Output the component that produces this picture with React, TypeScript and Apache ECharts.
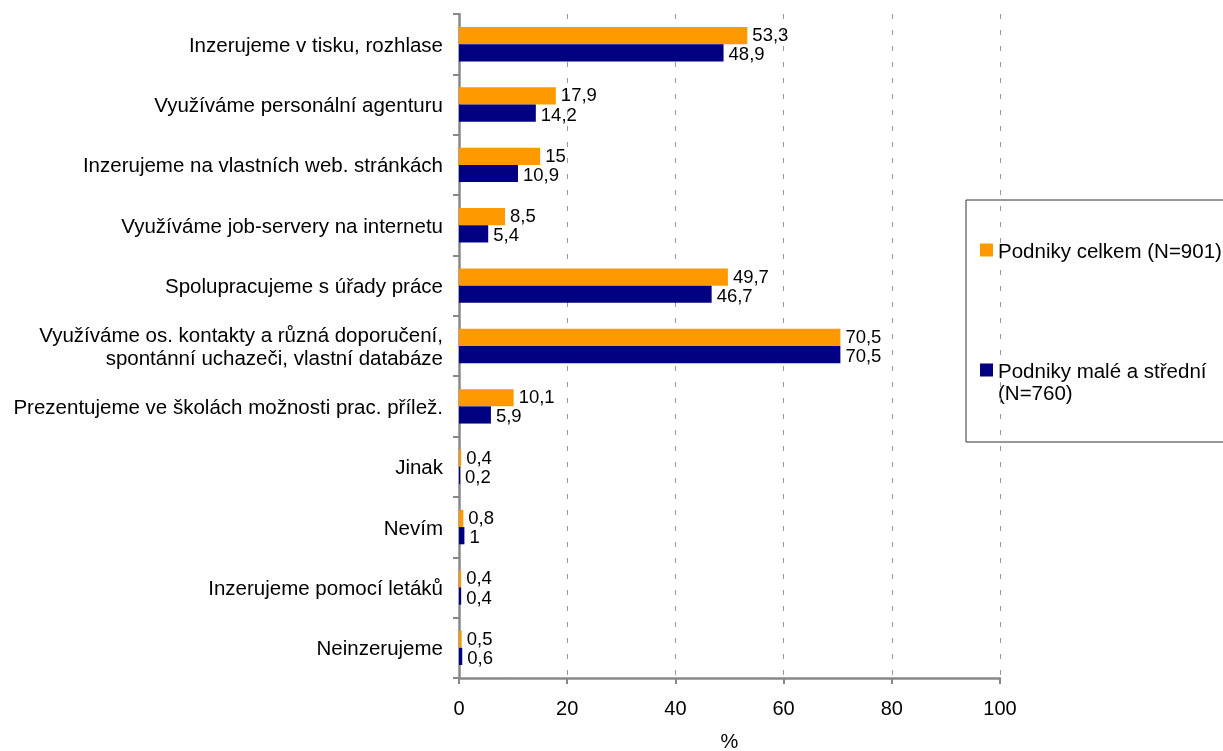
import React, { useEffect, useRef } from "react";
import * as echarts from "echarts";

const categories = [
  "Inzerujeme v tisku, rozhlase",
  "Využíváme personální agenturu",
  "Inzerujeme na vlastních web. stránkách",
  "Využíváme job-servery na internetu",
  "Spolupracujeme s úřady práce",
  "Využíváme os. kontakty a různá doporučení,\nspontánní uchazeči, vlastní databáze",
  "Prezentujeme ve školách možnosti prac. přílež.",
  "Jinak",
  "Nevím",
  "Inzerujeme pomocí letáků",
  "Neinzerujeme",
];
const seriesNames = ["Podniky celkem (N=901)", "Podniky malé a střední (N=760)"];
const celkem = [53.3, 17.9, 15, 8.5, 49.7, 70.5, 10.1, 0.4, 0.8, 0.4, 0.5];
const maleStredni = [48.9, 14.2, 10.9, 5.4, 46.7, 70.5, 5.9, 0.2, 1, 0.4, 0.6];
const xTicks = [0, 20, 40, 60, 80, 100];
const colors = ["#FF9900", "#000080"];

const FONT = "Liberation Sans, Arial, sans-serif";

export default function App() {
  const ref = useRef<HTMLDivElement>(null);
  useEffect(() => {
    if (!ref.current) return;
    const chart = echarts.init(ref.current, undefined, { renderer: "svg" });
    const fmt = (p: any) => String(p.value).replace(".", ",");
    const mkSeries = (name: string, data: number[], color: string, dy: number) => ({
      name,
      type: "bar",
      data,
      barGap: "0%",
      barCategoryGap: "43%",
      itemStyle: { color },
      label: {
        show: true,
        position: "right",
        distance: 5,
        offset: [0, dy],
        formatter: fmt,
        color: "#000",
        fontSize: 18.5,
        lineHeight: 16,
        fontFamily: FONT,
      },
    });
    chart.setOption({
      animation: false,
      textStyle: { fontFamily: FONT },
      grid: {
        left: 459,
        right: 223,
        top: 14,
        bottom: 73,
        containLabel: false,
        outerBoundsMode: "none",
      },
      xAxis: {
        type: "value",
        min: xTicks[0],
        max: xTicks[xTicks.length - 1],
        interval: 20,
        name: "%",
        nameLocation: "middle",
        nameGap: 55,
        nameTextStyle: { color: "#000", fontSize: 20, lineHeight: 16, fontFamily: FONT },
        axisLine: { show: true, lineStyle: { color: "#888", width: 2.5 } },
        axisTick: { show: true, length: 6, lineStyle: { color: "#888", width: 2 } },
        axisLabel: { color: "#000", fontSize: 20, margin: 20, fontFamily: FONT },
        splitLine: { show: true, lineStyle: { color: "#999", type: [5, 11], width: 1 } },
      },
      yAxis: {
        type: "category",
        data: categories,
        inverse: true,
        axisLine: { show: true, lineStyle: { color: "#888", width: 2.5 } },
        axisTick: { show: true, length: 6, lineStyle: { color: "#888", width: 2 } },
        axisLabel: {
          color: "#000",
          fontSize: 20.5,
          margin: 16,
          fontFamily: FONT,
          lineHeight: 23,
          align: "right",
        },
        splitLine: { show: false },
      },
      legend: {
        orient: "vertical",
        left: 980,
        top: 239,
        padding: 0,
        itemWidth: 13,
        itemHeight: 13,
        itemGap: 98,
        icon: "rect",
        textStyle: { color: "#000", fontSize: 20.5, fontFamily: FONT, lineHeight: 22 },
        formatter: (name: string) =>
          name === seriesNames[1] ? "Podniky malé a střední" : name,
        data: seriesNames,
      },
      graphic: [
        {
          type: "rect",
          shape: { x: 966, y: 200, width: 270, height: 242 },
          style: { fill: "none", stroke: "#333", lineWidth: 1 },
        },
        {
          type: "text",
          x: 998,
          y: 392,
          style: {
            text: "(N=760)",
            fill: "#000",
            font: `20.5px ${FONT}`,
            verticalAlign: "middle",
          },
        },
      ],
      series: [
        mkSeries(seriesNames[0], celkem, colors[0], -1),
        mkSeries(seriesNames[1], maleStredni, colors[1], 1),
      ],
    });
    return () => chart.dispose();
  }, []);
  return (
    <div
      ref={ref}
      style={{ position: "fixed", left: 0, top: 0, width: 1223, height: 751 }}
    />
  );
}
